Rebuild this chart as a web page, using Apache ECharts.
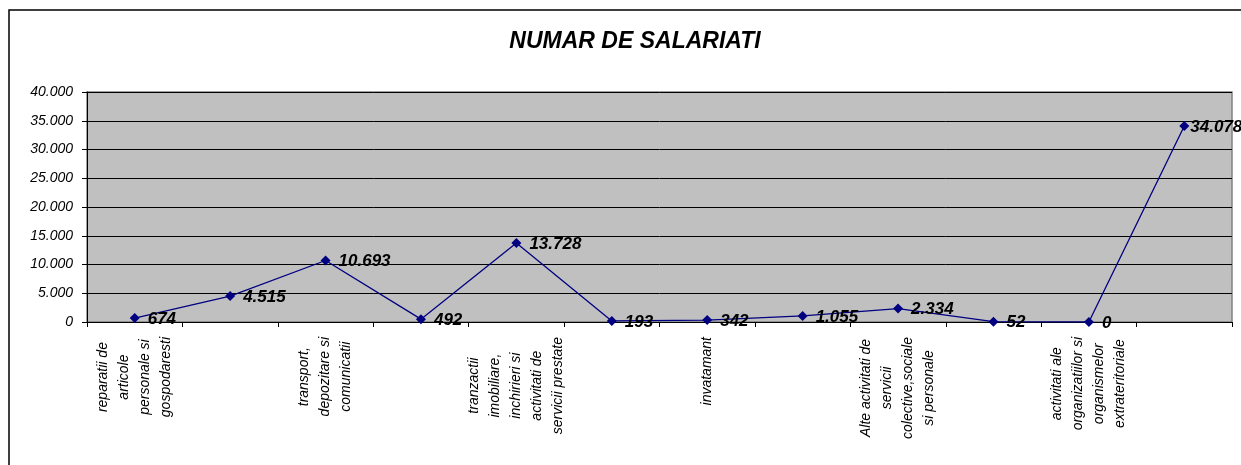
<!DOCTYPE html>
<html>
<head>
<meta charset="utf-8">
<script src="https://cdn.jsdelivr.net/npm/echarts@6/dist/echarts.min.js"></script>
<style>
html,body{margin:0;padding:0;background:#fff;}
#chart{width:1241px;height:465px;}
</style>
</head>
<body>
<div id="chart"></div>
<script>
const categories = [
  "reparatii de\narticole\npersonale si\ngospodaresti",
  "hoteluri si\nrestaurante",
  "transport,\ndepozitare si\ncomunicatii",
  "intermedieri\nfinanciare",
  "tranzactii\nimobiliare,\ninchirieri si\nactivitati de\nservicii prestate",
  "administratie\npublica",
  "invatamant",
  "sanatate si\nasistenta sociala",
  "Alte activitati de\nservicii\ncolective,sociale\nsi personale",
  "activitati ale\ngospodariilor\nprivate",
  "activitati ale\norganizatiilor si\norganismelor\nextrateritoriale",
  "TOTAL"
];
const salariati = [674, 4515, 10693, 492, 13728, 193, 342, 1055, 2334, 52, 0, 34078];
const yTicks = [0, 5000, 10000, 15000, 20000, 25000, 30000, 35000, 40000];
const titleText = "NUMAR DE SALARIATI";

function fmt(v){ return String(v).replace(/\B(?=(\d{3})+(?!\d))/g, "."); }

const FONT = 'Liberation Sans, Arial';
const seriesData = salariati.map(function(v, i){
  if (i === salariati.length - 1) {
    return {value:v, label:{distance:1}};
  }
  return v;
});

const chart = echarts.init(document.getElementById('chart'), null, {renderer:'canvas'});
chart.setOption({
  animation:false,
  backgroundColor:'#ffffff',
  title:{
    text:titleText, left:630, textAlign:'center', top:25,
    textStyle:{fontFamily:FONT, fontSize:23, fontWeight:'bold', fontStyle:'italic', color:'#000'}
  },
  graphic:[
    {type:'rect', shape:{x:9, y:10, width:1260, height:480}, style:{fill:null, stroke:'#000', lineWidth:1.5}, silent:true, z:-1}
  ],
  grid:{left:87, right:9, top:92, bottom:143, show:true, backgroundColor:'#C0C0C0', borderColor:'#808080', borderWidth:1.5},
  xAxis:{
    type:'category', data:categories, boundaryGap:true,
    axisLine:{show:true, lineStyle:{color:'#000', width:1}},
    axisTick:{show:true, interval:0, length:5, inside:false, lineStyle:{color:'#000'}},
    axisLabel:{
      interval:1, rotate:90, margin:15,
      fontFamily:FONT, fontSize:14, fontStyle:'italic', color:'#000',
      lineHeight:21,
      formatter:function(v){ return v.split('\n').map(s=>'{c|'+s+'}').join('\n'); },
      rich:{c:{align:'center', fontFamily:FONT, fontSize:14, fontStyle:'italic', color:'#000', lineHeight:21}}
    },
    splitLine:{show:false}
  },
  yAxis:{
    type:'value', min:yTicks[0], max:yTicks[yTicks.length-1], interval:5000,
    axisLine:{show:true, lineStyle:{color:'#000', width:1}},
    axisTick:{show:true, length:5, lineStyle:{color:'#000'}},
    axisLabel:{margin:14, fontFamily:FONT, fontSize:14, fontStyle:'italic', color:'#000', formatter:fmt},
    splitLine:{show:true, lineStyle:{color:'#000', width:1}}
  },
  series:[{
    type:'line', data:seriesData,
    symbol:'diamond', symbolSize:10,
    lineStyle:{color:'#000080', width:1.3},
    itemStyle:{color:'#000080'},
    label:{
      show:true, position:'right', distance:8, offset:[0,1],
      fontFamily:FONT, fontSize:17, fontWeight:'bold', fontStyle:'italic', color:'#000',
      formatter:function(p){ return fmt(p.value); }
    },
    z:3
  }]
});
</script>
</body>
</html>
